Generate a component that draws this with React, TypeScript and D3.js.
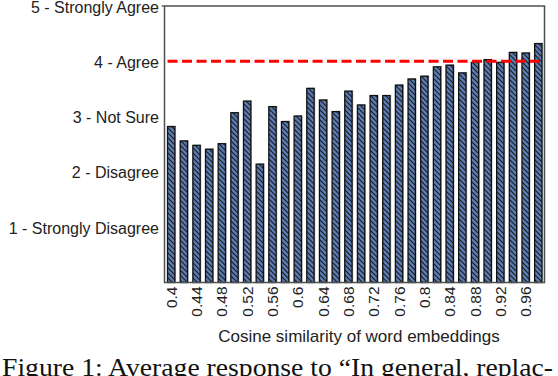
import React from "react";
import * as d3 from "d3";

const categories: string[] = [
  "0.4", "0.42", "0.44", "0.46", "0.48", "0.5", "0.52", "0.54", "0.56", "0.58",
  "0.6", "0.62", "0.64", "0.66", "0.68", "0.7", "0.72", "0.74", "0.76", "0.78",
  "0.8", "0.82", "0.84", "0.86", "0.88", "0.9", "0.92", "0.94", "0.96", "0.98",
];
const responses: number[] = [
  2.82, 2.56, 2.48, 2.41, 2.51, 3.07, 3.28, 2.14, 3.18, 2.91,
  3.01, 3.51, 3.3, 3.09, 3.46, 3.21, 3.38, 3.38, 3.57, 3.68,
  3.73, 3.9, 3.93, 3.79, 3.98, 4.03, 3.98, 4.16, 4.15, 4.32,
];
const yTickValues: number[] = [1, 2, 3, 4, 5];
const yTickLabels: string[] = [
  "1 - Strongly Disagree",
  "2 - Disagree",
  "3 - Not Sure",
  "4 - Agree",
  "5 - Strongly Agree",
];
const xTickLabels: string[] = categories.filter((_, i) => i % 2 === 0);
const referenceLine = 4;
const xTitle = "Cosine similarity of word embeddings";
const caption = "Figure 1: Average response to \u201cIn general, replac-";

export default function App() {
  const W = 558, H = 376;
  const left = 164.5, right = 544.5, top = 6, bottom = 282.5;
  const x = d3.scaleBand<string>().domain(categories).range([left + 0.5, right]).paddingInner(0.42).paddingOuter(0.2);
  const y = d3.scaleLinear().domain([0, 5]).range([bottom, top]);
  const sans = "'Liberation Sans', Arial, sans-serif";
  const bw = x.bandwidth();
  return (
    <svg width={W} height={H} style={{ position: "absolute", left: 0, top: 0, background: "#fff" }}>
      <defs>
        <pattern id="hatch" patternUnits="userSpaceOnUse" width={5} height={5}>
          <rect width={5} height={5} fill="#5b7db6" />
          <path d="M0,0 L5,5 M-1,4 L1,6 M4,-1 L6,1" stroke="#1a1a1a" strokeWidth={1.1} />
        </pattern>
      </defs>
      <rect x={0} y={0} width={W} height={H} fill="#fff" />
      {categories.map((c, i) => {
        const bx = x(c)!;
        const by = y(responses[i]);
        return (
          <g key={c}>
            <rect x={bx + 1.2} y={by - 0.8} width={bw} height={bottom - by + 0.8} fill="#bdbdbd" />
            <rect x={bx} y={by} width={bw} height={bottom - by} fill="url(#hatch)" stroke="#111" strokeWidth={1.3} />
          </g>
        );
      })}
      <line x1={x(categories[0])!} x2={right} y1={y(referenceLine)} y2={y(referenceLine)}
        stroke="#ff0000" strokeWidth={3} strokeDasharray="10,4.5" />
      <rect x={left} y={top} width={right - left} height={bottom - top} fill="none" stroke="#505050" strokeWidth={1.5} />
      <line x1={left - 3} x2={left} y1={top} y2={top} stroke="#505050" strokeWidth={1.2} />
      {yTickValues.map((v, i) => (
        <text key={v} x={159} y={y(v) + 1} textAnchor="end" dominantBaseline="central"
          fontFamily={sans} fontSize={16} fill="#222">{yTickLabels[i]}</text>
      ))}
      {xTickLabels.map((c) => {
        const cx = x(c)! + bw / 2;
        return (
          <text key={c} transform={`translate(${cx},${bottom + 4}) rotate(-90)`} textAnchor="end"
            dominantBaseline="central" fontFamily={sans} fontSize={15.5} fill="#222">{c}</text>
        );
      })}
      <text x={359} y={342} textAnchor="middle" fontFamily={sans} fontSize={17} fill="#222">{xTitle}</text>
      <text x={2} y={376} fontFamily="'Liberation Serif', 'Times New Roman', serif" fontSize={25}
        textLength={551} lengthAdjust="spacingAndGlyphs" fill="#111">{caption}</text>
    </svg>
  );
}
